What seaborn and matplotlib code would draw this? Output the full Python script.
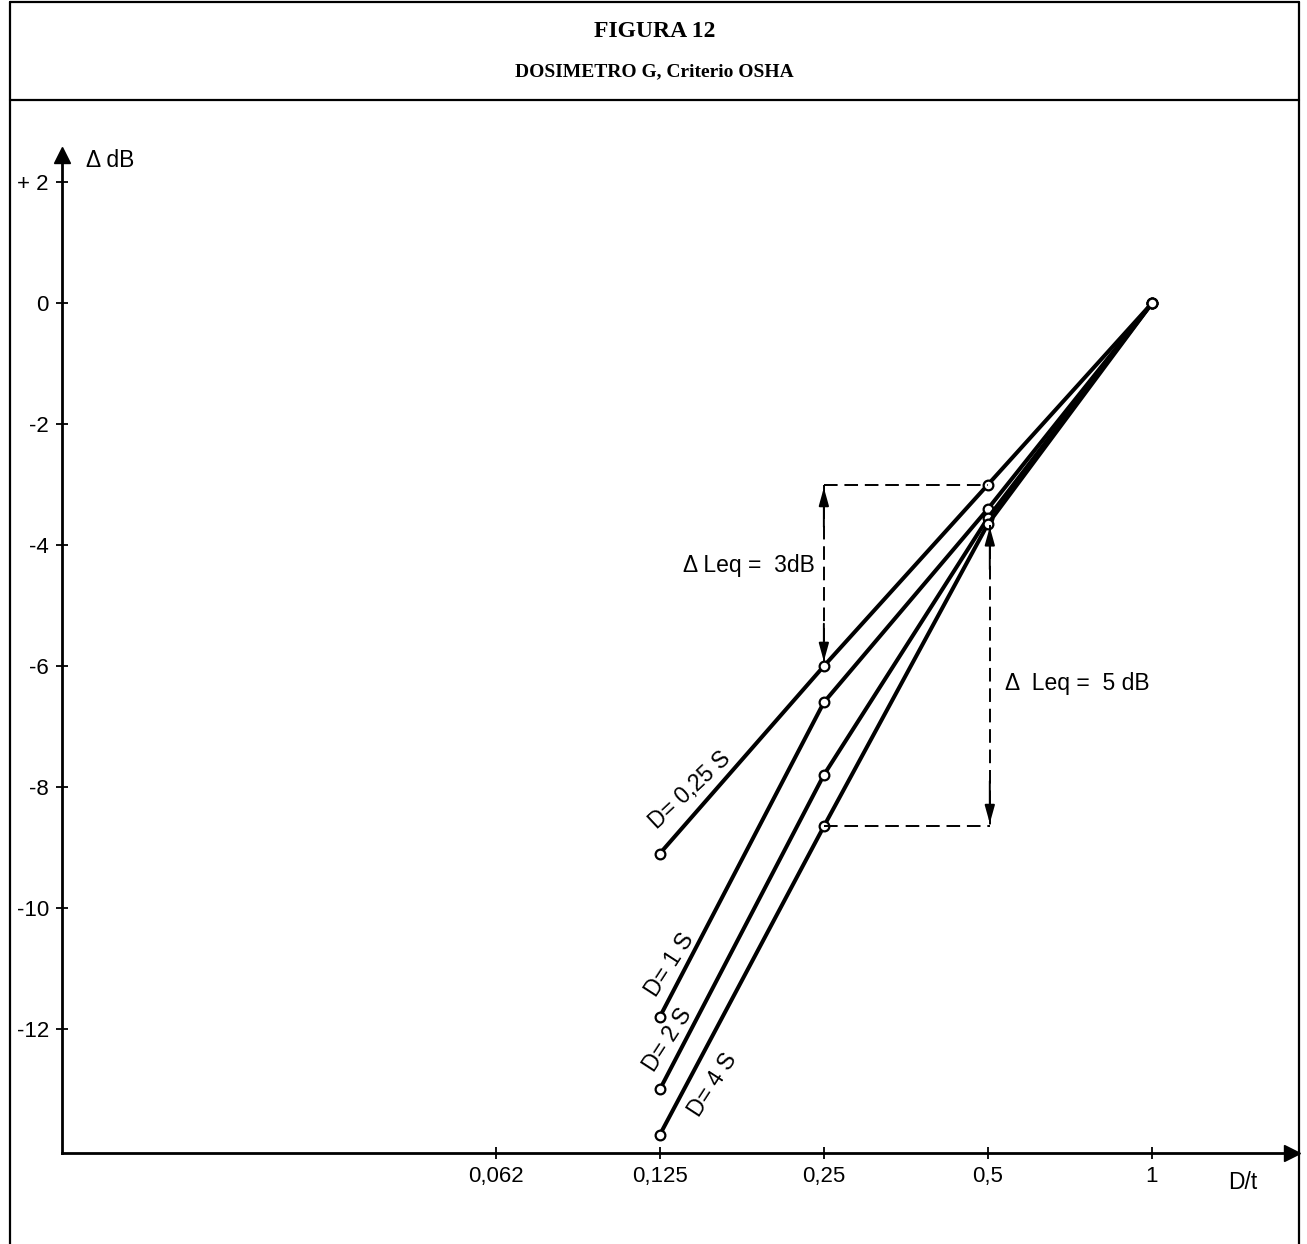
import matplotlib
matplotlib.use("Agg")
import matplotlib.pyplot as plt
import seaborn as sns
import pandas as pd
from matplotlib.lines import Line2D

# ---------------- data ----------------
dose_ratio = [0.125, 0.25, 0.5, 1.0]
d_025s = [-9.1, -6.0, -3.0, 0.0]
d_1s = [-11.8, -6.6, -3.4, 0.0]
d_2s = [-13.0, -7.8, -3.55, 0.0]
d_4s = [-13.75, -8.65, -3.65, 0.0]
series_names = ["D= 0,25 S", "D= 1 S", "D= 2 S", "D= 4 S"]

x_ticks = [0.0625, 0.125, 0.25, 0.5, 1.0]
x_ticklabels = ["0,062", "0,125", "0,25", "0,5", "1"]
y_ticks = [2, 0, -2, -4, -6, -8, -10, -12]
y_ticklabels = ["+ 2", "0", "-2", "-4", "-6", "-8", "-10", "-12"]

title1 = "FIGURA 12"
title2 = "DOSIMETRO G, Criterio OSHA"

rows = []
for name, vals in zip(series_names, [d_025s, d_1s, d_2s, d_4s]):
    for xv, yv in zip(dose_ratio, vals):
        rows.append({"serie": name, "D/t": xv, "dB": yv})
df = pd.DataFrame(rows)

# ---------------- style ----------------
sns.set_theme(style="white")
plt.rcParams["font.family"] = ["Liberation Sans", "DejaVu Sans"]

fig = plt.figure(figsize=(13.07, 12.44), dpi=100)
ax = fig.add_axes([0.04744, 0.07315, 0.94109, 0.80225])

sns.lineplot(data=df, x="D/t", y="dB", hue="serie", palette=["black"] * 4,
             marker="o", markersize=7, markerfacecolor="white",
             markeredgecolor="black", markeredgewidth=1.6,
             linewidth=2.9, legend=False, ax=ax, sort=False)

ax.set_xscale("log", base=2)
ax.set_xlim(0.0100, 1.807)
ax.set_ylim(-14.05, 2.45)
ax.set_xticks(x_ticks)
ax.set_xticklabels(x_ticklabels)
ax.minorticks_off()
ax.set_yticks(y_ticks)
ax.set_yticklabels(y_ticklabels)
ax.set_xlabel("")
ax.set_ylabel("")
ax.tick_params(axis="both", direction="inout", length=9, width=1.3,
               color="black", labelsize=16, labelcolor="black", pad=5)
ax.tick_params(axis="both", which="both", bottom=True, left=True)

for side in ["top", "right"]:
    ax.spines[side].set_visible(False)
for side in ["left", "bottom"]:
    ax.spines[side].set_color("black")
    ax.spines[side].set_linewidth(2.0)

# axis arrowheads
ax.plot(1, 0, marker=">", color="black", markersize=11,
        transform=ax.transAxes, clip_on=False)
ax.plot(0, 1, marker="^", color="black", markersize=11,
        transform=ax.transAxes, clip_on=False)

# dashed reference lines
dash = dict(color="black", linestyle=(0, (7, 3.5)), linewidth=1.4)
ax.plot([0.25, 0.5], [-3.0, -3.0], **dash)
ax.plot([0.25, 0.25], [-3.0, -6.0], **dash)
ax.plot([0.25, 0.504], [-8.65, -8.65], **dash)
ax.plot([0.504, 0.504], [-3.67, -8.65], **dash)

arr = dict(arrowstyle="-|>,head_length=0.9,head_width=0.25", color="black",
           linewidth=1.4, shrinkA=0, shrinkB=0)
ax.annotate("", xy=(0.25, -5.92), xytext=(0.25, -5.3), arrowprops=arr)
ax.annotate("", xy=(0.25, -3.05), xytext=(0.25, -3.7), arrowprops=arr)
ax.annotate("", xy=(0.504, -3.7), xytext=(0.504, -4.4), arrowprops=arr)
ax.annotate("", xy=(0.504, -8.6), xytext=(0.504, -7.9), arrowprops=arr)

# annotations
fs = 16.5
ax.text(0.2407, -4.33, "Δ Leq =  3dB", ha="right", va="center", fontsize=fs, color="black")
ax.text(0.537, -6.28, "Δ  Leq =  5 dB", ha="left", va="center", fontsize=fs, color="black")
ax.text(0.142, -8.05, series_names[0], ha="center", va="center", rotation=43,
        fontsize=fs, color="black", rotation_mode="anchor")
ax.text(0.1304, -10.94, series_names[1], ha="center", va="center", rotation=57,
        fontsize=fs, color="black", rotation_mode="anchor")
ax.text(0.1294, -12.18, series_names[2], ha="center", va="center", rotation=57,
        fontsize=fs, color="black", rotation_mode="anchor")
ax.text(0.1565, -12.93, series_names[3], ha="center", va="center", rotation=57,
        fontsize=fs, color="black", rotation_mode="anchor")
ax.text(0.01105, 2.36, "Δ dB", ha="left", va="center", fontsize=fs,
        color="black", clip_on=False)
fig.text(0.9396, 0.0498, "D/t", ha="left", va="center", fontsize=fs, color="black")

# title block and frame
fig.text(0.501, 0.975, title1, ha="center", va="center", fontsize=17,
         fontweight="bold", family=["Liberation Serif", "DejaVu Serif"], color="black")
fig.text(0.501, 0.942, title2, ha="center", va="center", fontsize=14,
         fontweight="bold", family=["Liberation Serif", "DejaVu Serif"], color="black")

frame = dict(color="black", linewidth=1.6, transform=fig.transFigure)
fig.add_artist(Line2D([0.0077, 0.0077], [0.0, 0.998], **frame))
fig.add_artist(Line2D([0.9939, 0.9939], [0.0, 0.998], **frame))
fig.add_artist(Line2D([0.0077, 0.9939], [0.998, 0.998], **frame))
fig.add_artist(Line2D([0.0077, 0.9939], [0.9196, 0.9196], **frame))

fig.savefig("out.png", dpi=100, facecolor="white")
